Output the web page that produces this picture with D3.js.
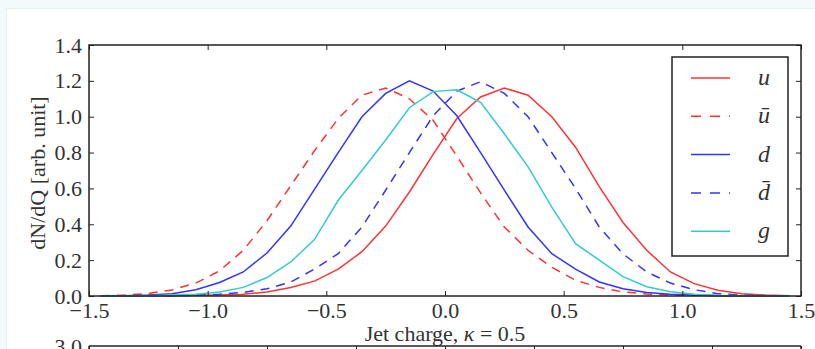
<!DOCTYPE html>
<html>
<head>
<meta charset="utf-8">
<script src="https://cdn.jsdelivr.net/npm/d3@7"></script>
<style>
  body { margin: 0; background: #f3fafc; }
  svg { display: block; }
  text { font-family: "Liberation Serif", "DejaVu Serif", serif; fill: #333; }
</style>
</head>
<body>
<script>
// bin centres of the jet charge histogram
let charge = [-1.45, -1.35, -1.25, -1.15, -1.05, -0.95, -0.85, -0.75, -0.65, -0.55,
              -0.45, -0.35, -0.25, -0.15, -0.05, 0.05, 0.15, 0.25, 0.35, 0.45,
              0.55, 0.65, 0.75, 0.85, 0.95, 1.05, 1.15, 1.25, 1.35, 1.45]

let uVals    = [0, 0, 0.001, 0.002, 0.004, 0.006, 0.01, 0.022, 0.047, 0.083,
                0.15, 0.247, 0.39, 0.58, 0.79, 0.99, 1.11, 1.16, 1.12, 1.0,
                0.83, 0.61, 0.41, 0.255, 0.134, 0.069, 0.032, 0.013, 0.005, 0.002]
let ubarVals = [0.002, 0.005, 0.014, 0.034, 0.072, 0.14, 0.255, 0.42, 0.615, 0.81,
                0.99, 1.12, 1.16, 1.10, 0.98, 0.78, 0.575, 0.385, 0.255, 0.16,
                0.088, 0.048, 0.023, 0.011, 0.006, 0.004, 0.002, 0.001, 0, 0]
let dVals    = [0, 0.002, 0.005, 0.013, 0.035, 0.075, 0.134, 0.24, 0.39, 0.595,
                0.80, 1.0, 1.13, 1.20, 1.143, 1.005, 0.80, 0.59, 0.385, 0.236,
                0.15, 0.078, 0.04, 0.02, 0.01, 0.005, 0.002, 0.001, 0, 0]
let dbarVals = [0, 0, 0.001, 0.002, 0.005, 0.01, 0.02, 0.04, 0.078, 0.15,
                0.236, 0.385, 0.59, 0.80, 1.005, 1.143, 1.195, 1.13, 1.0, 0.80,
                0.6, 0.385, 0.235, 0.134, 0.072, 0.035, 0.013, 0.005, 0.002, 0]
let gVals    = [0, 0, 0.002, 0.005, 0.01, 0.022, 0.048, 0.103, 0.19, 0.315,
                0.534, 0.70, 0.87, 1.05, 1.14, 1.15, 1.08, 0.905, 0.72, 0.496,
                0.292, 0.2, 0.108, 0.052, 0.024, 0.01, 0.004, 0.002, 0, 0]

let seriesNames = ["u", "ū", "d", "d̄", "g"]
let xTicks = [-1.5, -1.0, -0.5, 0.0, 0.5, 1.0, 1.5]
let yTicks = [0.0, 0.2, 0.4, 0.6, 0.8, 1.0, 1.2, 1.4]

let series = [
    {name: seriesNames[0], values: uVals,    color: "#ff3333", dash: null},
    {name: seriesNames[1], values: ubarVals, color: "#ff3333", dash: "9,7"},
    {name: seriesNames[2], values: dVals,    color: "#3333ff", dash: null},
    {name: seriesNames[3], values: dbarVals, color: "#3333ff", dash: "9,7"},
    {name: seriesNames[4], values: gVals,    color: "#33cccc", dash: null}
]

let width = 815
let height = 349
let plotLeft = 89, plotRight = 801, plotTop = 45, plotBottom = 296

let svg = d3.select("body")
            .append("svg")
            .attr("width", width)
            .attr("height", height)

// white page panel with light frame
svg.append("rect")
    .attr("x", 6.5)
    .attr("y", 8.5)
    .attr("width", width)
    .attr("height", height)
    .attr("fill", "#fff")
    .attr("stroke", "#e6f1f4")

let xScale = d3.scaleLinear().domain([-1.5, 1.5]).range([plotLeft, plotRight])
let yScale = d3.scaleLinear().domain([0, 1.4]).range([plotBottom, plotTop])

let fmt = d3.format(".1f")

let line = d3.line()
            .x((d, i) => xScale(charge[i]))
            .y(d => yScale(d))

svg.append("g")
    .selectAll("path")
    .data(series)
    .enter()
    .append("path")
    .attr("d", s => line(s.values))
    .attr("fill", "none")
    .attr("stroke", s => s.color)
    .attr("stroke-width", 1.5)
    .attr("stroke-dasharray", s => s.dash)

// axes with inward ticks on all four sides
let xAxis = d3.axisBottom(xScale).tickValues(xTicks).tickFormat(fmt).tickSizeInner(-5).tickSizeOuter(0).tickPadding(6)
let yAxis = d3.axisLeft(yScale).tickValues(yTicks).tickFormat(fmt).tickSizeInner(-5).tickSizeOuter(0).tickPadding(7)
let xTop = d3.axisTop(xScale).tickValues(xTicks).tickFormat("").tickSizeInner(-5).tickSizeOuter(0)
let yRight = d3.axisRight(yScale).tickValues(yTicks).tickFormat("").tickSizeInner(-5).tickSizeOuter(0)

let axes = [
    svg.append("g").attr("transform", "translate(0," + plotBottom + ")").call(xAxis),
    svg.append("g").attr("transform", "translate(" + plotLeft + ",0)").call(yAxis),
    svg.append("g").attr("transform", "translate(0," + plotTop + ")").call(xTop),
    svg.append("g").attr("transform", "translate(" + plotRight + ",0)").call(yRight)
]
axes.forEach(a => {
    a.select(".domain").remove()
    a.selectAll(".tick line").attr("stroke", "#222").attr("stroke-width", 1)
    a.selectAll("text").attr("font-size", 22).attr("fill", "#333")
})

svg.append("rect")
    .attr("x", plotLeft)
    .attr("y", plotTop)
    .attr("width", plotRight - plotLeft)
    .attr("height", plotBottom - plotTop)
    .attr("fill", "none")
    .attr("stroke", "#222")
    .attr("stroke-width", 1.5)

svg.append("text")
    .attr("x", (plotLeft + plotRight) / 2)
    .attr("y", 341)
    .attr("text-anchor", "middle")
    .attr("font-size", 22)
    .html("Jet charge, <tspan font-style='italic'>κ</tspan> = 0.5")

svg.append("text")
    .attr("transform", "translate(45,173) rotate(-90)")
    .attr("text-anchor", "middle")
    .attr("font-size", 22)
    .text("dN/dQ [arb. unit]")

// legend
let legend = svg.append("g")
legend.append("rect")
    .attr("x", 672)
    .attr("y", 57)
    .attr("width", 116)
    .attr("height", 199)
    .attr("fill", "#fff")
    .attr("stroke", "#222")
    .attr("stroke-width", 1.5)

let rows = legend.selectAll("g.row")
    .data(series)
    .enter()
    .append("g")
    .attr("class", "row")
    .attr("transform", (s, i) => "translate(0," + (78 + i * 38.3) + ")")

rows.append("line")
    .attr("x1", 691).attr("x2", 730)
    .attr("stroke", s => s.color)
    .attr("stroke-width", 1.5)
    .attr("stroke-dasharray", s => s.dash ? "10,9" : null)

rows.append("text")
    .attr("x", 758)
    .attr("y", 7)
    .attr("font-size", 24)
    .attr("font-style", "italic")
    .text(s => s.name)

// top of the next panel, cut off by the window
let x2 = d3.scaleLinear().domain([-2, 2]).range([plotLeft, plotRight])
let topAxis2 = svg.append("g")
    .attr("transform", "translate(0,346)")
    .call(d3.axisTop(x2).ticks(8).tickFormat("").tickSizeInner(-5).tickSizeOuter(0))
topAxis2.select(".domain").remove()
topAxis2.selectAll(".tick line").attr("stroke", "#222")
svg.append("line")
    .attr("x1", plotLeft).attr("x2", plotRight)
    .attr("y1", 346).attr("y2", 346)
    .attr("stroke", "#222").attr("stroke-width", 1.5)
svg.append("line")
    .attr("x1", plotLeft).attr("x2", plotLeft)
    .attr("y1", 346).attr("y2", 360)
    .attr("stroke", "#222").attr("stroke-width", 1.5)
svg.append("line")
    .attr("x1", plotRight).attr("x2", plotRight)
    .attr("y1", 346).attr("y2", 360)
    .attr("stroke", "#222").attr("stroke-width", 1.5)
svg.append("text")
    .attr("x", 82)
    .attr("y", 354)
    .attr("text-anchor", "end")
    .attr("font-size", 22)
    .text("3.0")
</script>
</body>
</html>
